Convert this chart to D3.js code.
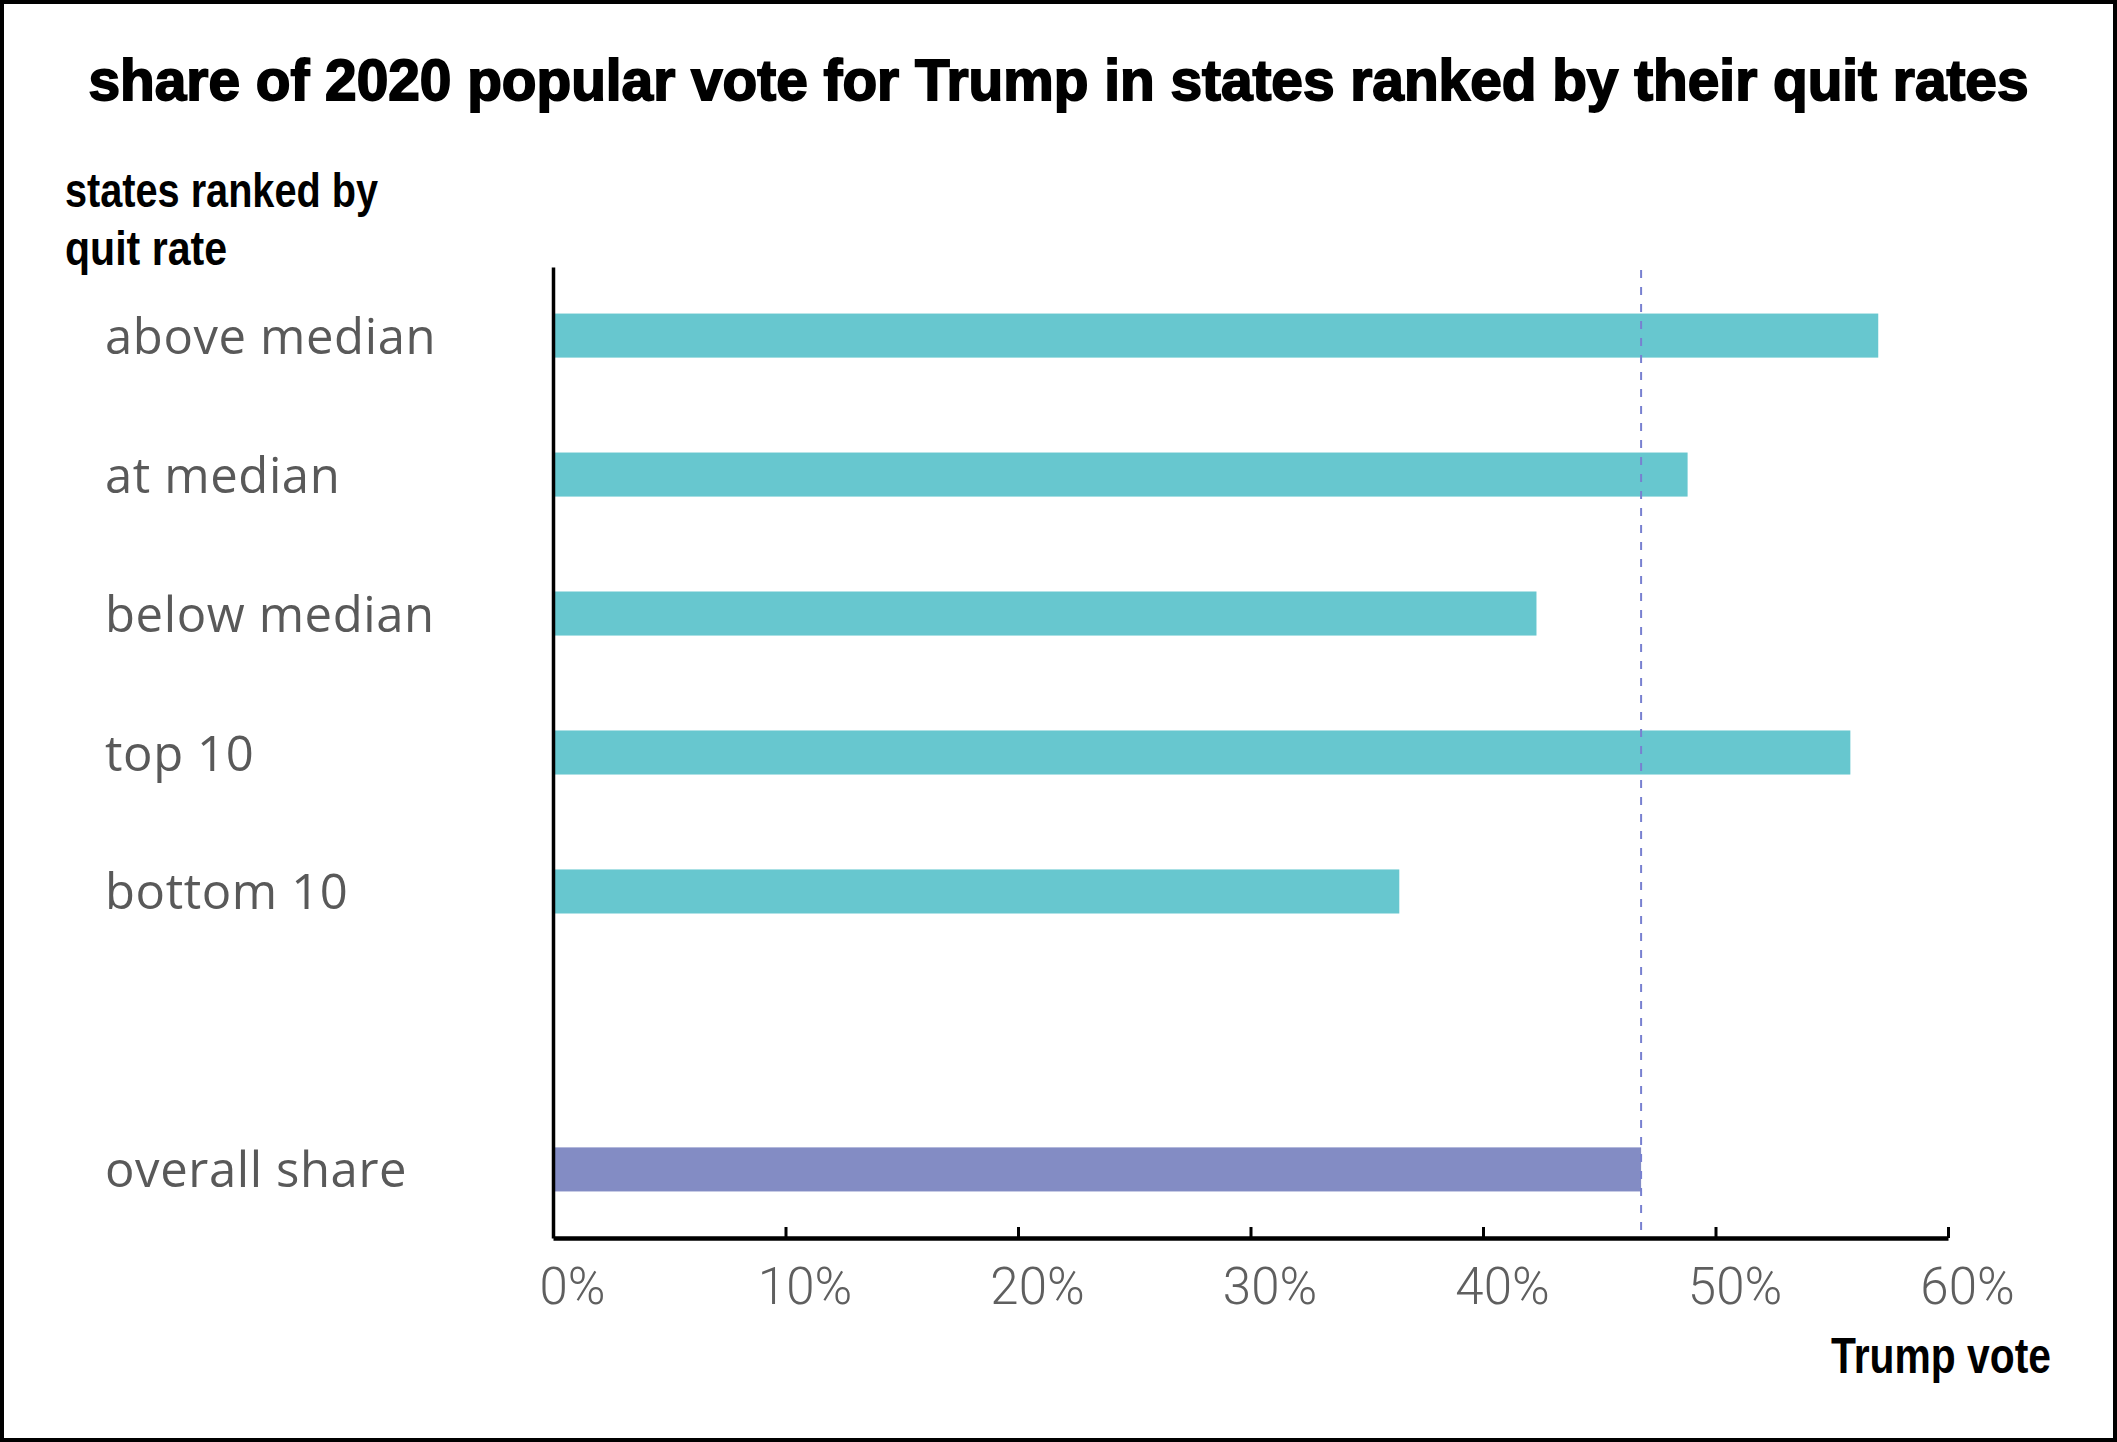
<!DOCTYPE html>
<html>
<head>
<meta charset="utf-8">
<script src="https://cdn.jsdelivr.net/npm/d3@7"></script>
<style>
  html, body { margin: 0; padding: 0; background: #fff; }
  svg { display: block; }
</style>
</head>
<body>
<div id="chart"></div>
<script>
// values
const categories = ["above median", "at median", "below median", "top 10", "bottom 10", "overall share"];
const trumpShare = [57.0, 48.8, 42.3, 55.8, 36.4, 46.8];
const overallShare = 46.8;
const xTicks = [0, 10, 20, 30, 40, 50, 60];

const title = "share of 2020 popular vote for Trump in states ranked by their quit rates";
const yTitle = ["states ranked by", "quit rate"];
const yTitleWidths = [313, 162];
const xTitle = "Trump vote";

const W = 2117, H = 1442;

// one empty slot between the groups and the overall bar
const slots = categories.slice(0, 5).concat(["_gap"], categories.slice(5));
const rows = categories.map((c, i) => ({ name: c, value: trumpShare[i] }));

const x = d3.scaleLinear()
    .domain([0, 60])
    .range([553, 1948]);

const y = d3.scaleBand()
    .domain(slots)
    .range([267, 1238])
    .paddingInner(0.683)
    .paddingOuter(0.335);

const svg = d3.select("#chart").append("svg")
    .attr("width", W)
    .attr("height", H);

svg.append("rect")
    .attr("x", 2).attr("y", 2)
    .attr("width", W - 4).attr("height", H - 4)
    .attr("fill", "#fff")
    .attr("stroke", "#000")
    .attr("stroke-width", 4);

svg.append("text")
    .attr("x", W / 2)
    .attr("y", 100)
    .attr("text-anchor", "middle")
    .attr("font-family", "Liberation Sans, Arial, sans-serif")
    .attr("font-weight", "bold")
    .attr("font-size", 57)
    .attr("fill", "#000")
    .attr("stroke", "#000")
    .attr("stroke-width", 1.8)
    .attr("textLength", 1940)
    .attr("lengthAdjust", "spacingAndGlyphs")
    .text(title);

// condensed bold axis titles (no narrow face installed, so squeeze the glyphs)
svg.append("g")
    .selectAll("text")
    .data(yTitle)
    .enter().append("text")
    .attr("x", 65)
    .attr("y", (d, i) => 207 + i * 58)
    .attr("font-family", "Liberation Sans, Arial, sans-serif")
    .attr("font-weight", "bold")
    .attr("font-size", 48)
    .attr("fill", "#000")
    .attr("textLength", (d, i) => yTitleWidths[i])
    .attr("lengthAdjust", "spacingAndGlyphs")
    .text(d => d);

svg.append("text")
    .attr("x", 2051)
    .attr("y", 1373)
    .attr("text-anchor", "end")
    .attr("font-family", "Liberation Sans, Arial, sans-serif")
    .attr("font-weight", "bold")
    .attr("font-size", 50)
    .attr("fill", "#000")
    .attr("textLength", 220)
    .attr("lengthAdjust", "spacingAndGlyphs")
    .text(xTitle);

// bars
svg.append("g")
    .selectAll("rect")
    .data(rows)
    .enter().append("rect")
    .attr("x", x(0))
    .attr("y", d => y(d.name))
    .attr("width", d => x(d.value) - x(0))
    .attr("height", y.bandwidth())
    .attr("fill", d => d.name === "overall share" ? "#838cc4" : "#67c7cf");

// reference line at overall share
svg.append("line")
    .attr("x1", x(overallShare))
    .attr("x2", x(overallShare))
    .attr("y1", y.range()[0] + 3)
    .attr("y2", y.range()[1])
    .attr("stroke", "#7880d0")
    .attr("stroke-width", 2)
    .attr("stroke-dasharray", "8,9");

// y axis with category labels
const yAxis = svg.append("g")
    .attr("transform", `translate(${x(0)},0)`)
    .call(d3.axisLeft(y)
        .tickValues(categories)
        .tickSize(0)
        .tickSizeOuter(0));

yAxis.select(".domain")
    .attr("stroke", "#000")
    .attr("stroke-width", 3.5);

yAxis.selectAll("text")
    .attr("x", 105 - x(0))
    .attr("dy", 0)
    .attr("y", 18)
    .attr("text-anchor", "start")
    .attr("font-family", "Open Sans, sans-serif")
    .attr("font-size", 49)
    .attr("letter-spacing", 0.6)
    .attr("fill", "#595959");

// x axis
const xAxis = svg.append("g")
    .attr("transform", `translate(0,${y.range()[1]})`)
    .call(d3.axisBottom(x)
        .tickValues(xTicks)
        .tickFormat(d => d + "%")
        .tickSize(-11)
        .tickSizeOuter(0));

xAxis.select(".domain")
    .attr("stroke", "#000")
    .attr("stroke-width", 4.5);

xAxis.selectAll(".tick line")
    .attr("stroke", "#000")
    .attr("stroke-width", 3);

xAxis.selectAll("text")
    .attr("y", 66)
    .attr("dy", 0)
    .attr("dx", 19)
    .attr("font-family", "Roboto, sans-serif")
    .attr("font-weight", 300)
    .attr("font-size", 51)
    .attr("fill", "#5f5f5f");
</script>
</body>
</html>
